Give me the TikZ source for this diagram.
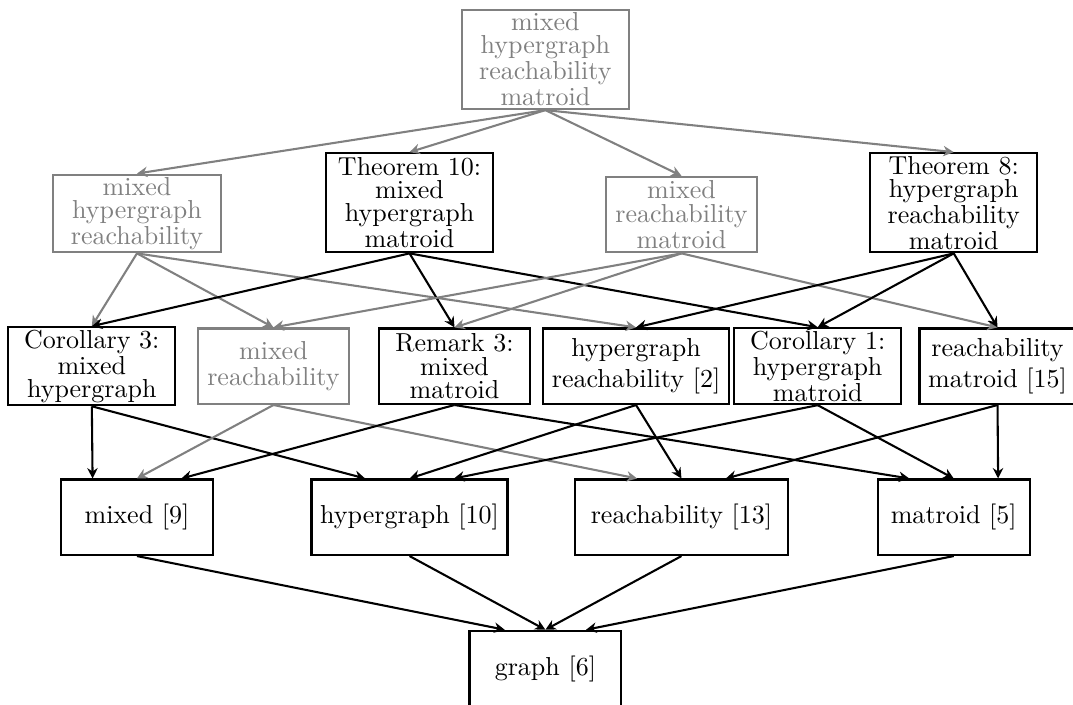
\documentclass[tikz,border=0pt]{standalone}
\usetikzlibrary{arrows.meta}

\begin{document}
\begin{tikzpicture}[x=1cm, y=1cm,
    box/.style={draw, thick, align=center, inner ysep=1pt, minimum width=2.05cm,
        minimum height=1.02cm, font=\fontsize{10}{8.9}\selectfont},
    grey/.style={box, draw=gray, text=gray},
    wide/.style={minimum width=2.26cm},
    tall/.style={minimum height=1.34cm},
    link/.style={thick, -{Stealth[length=4pt, width=4pt]}},
    glink/.style={link, gray}]
    \useasboundingbox (0,0) rectangle (14.5,9.514);
    % top
    \node[grey, wide, tall] (mhrm) at (7.37,8.71) {mixed\\ hypergraph\\ reachability\\ matroid};
    % second row
    \node[grey, wide, anchor=south] (mhr) at (1.851,6.09) {mixed\\ hypergraph\\ reachability};
    \node[box, wide, tall, anchor=south] (mhm) at (5.534,6.09) {Theorem 10:\\ mixed\\ hypergraph\\ matroid};
    \node[grey, anchor=south] (mrm) at (9.209,6.09) {mixed\\ reachability\\ matroid};
    \node[box, wide, tall, anchor=south] (hrm) at (12.888,6.09) {Theorem 8:\\ hypergraph\\ reachability\\ matroid};
    % third row
    \node[box, wide] (mh) at (1.241,4.565) {Corollary 3:\\ mixed\\ hypergraph};
    \node[grey] (mr) at (3.695,4.565) {mixed\\[1.4pt] reachability};
    \node[box] (mm) at (6.142,4.565) {Remark 3:\\ mixed\\ matroid};
    \node[box] (hr) at (8.595,4.565) {hypergraph\\[1.4pt] reachability [2]};
    \node[box, wide] (hm) at (11.05,4.565) {Corollary 1:\\ hypergraph\\ matroid};
    \node[box] (rm) at (13.48,4.565) {reachability\\[1.4pt] matroid [15]};
    % fourth row
    \node[box] (mixed) at (1.851,2.524) {mixed [9]};
    \node[box] (hyper) at (5.534,2.524) {hypergraph [10]};
    \node[box, minimum width=2.88cm] (reach) at (9.209,2.524) {reachability [13]};
    \node[box] (matroid) at (12.888,2.524) {matroid [5]};
    % bottom
    \node[box] (graph) at (7.37,0.48) {graph [6]};

    \draw[glink] (mhrm.south) -- (mhr.north);
    \draw[glink] (mhrm.south) -- (mhm.north);
    \draw[glink] (mhrm.south) -- (mrm.north);
    \draw[glink] (mhrm.south) -- (hrm.north);

    \draw[glink] (mhr.south) -- (mh.north);
    \draw[glink] (mhr.south) -- (mr.north);
    \draw[glink] (mhr.south) -- (hr.north);
    \draw[link] (mhm.south) -- (mh.north);
    \draw[link] (mhm.south) -- (mm.north);
    \draw[link] (mhm.south) -- (hm.north);
    \draw[glink] (mrm.south) -- (mr.north);
    \draw[glink] (mrm.south) -- (mm.north);
    \draw[glink] (mrm.south) -- (rm.north);
    \draw[link] (hrm.south) -- (hr.north);
    \draw[link] (hrm.south) -- (hm.north);
    \draw[link] (hrm.south) -- (rm.north);

    \draw[link] (mh.south) -- ([xshift=-0.6cm]mixed.north);
    \draw[link] (mh.south) -- ([xshift=-0.6cm]hyper.north);
    \draw[glink] (mr.south) -- (mixed.north);
    \draw[glink] (mr.south) -- ([xshift=-0.6cm]reach.north);
    \draw[link] (mm.south) -- ([xshift=0.6cm]mixed.north);
    \draw[link] (mm.south) -- ([xshift=-0.6cm]matroid.north);
    \draw[link] (hr.south) -- (hyper.north);
    \draw[link] (hr.south) -- (reach.north);
    \draw[link] (hm.south) -- ([xshift=0.6cm]hyper.north);
    \draw[link] (hm.south) -- (matroid.north);
    \draw[link] (rm.south) -- ([xshift=0.6cm]reach.north);
    \draw[link] (rm.south) -- ([xshift=0.6cm]matroid.north);

    \draw[link] (mixed.south) -- ([xshift=-0.55cm]graph.north);
    \draw[link] (hyper.south) -- (graph.north);
    \draw[link] (reach.south) -- (graph.north);
    \draw[link] (matroid.south) -- ([xshift=0.55cm]graph.north);
\end{tikzpicture}
\end{document}
